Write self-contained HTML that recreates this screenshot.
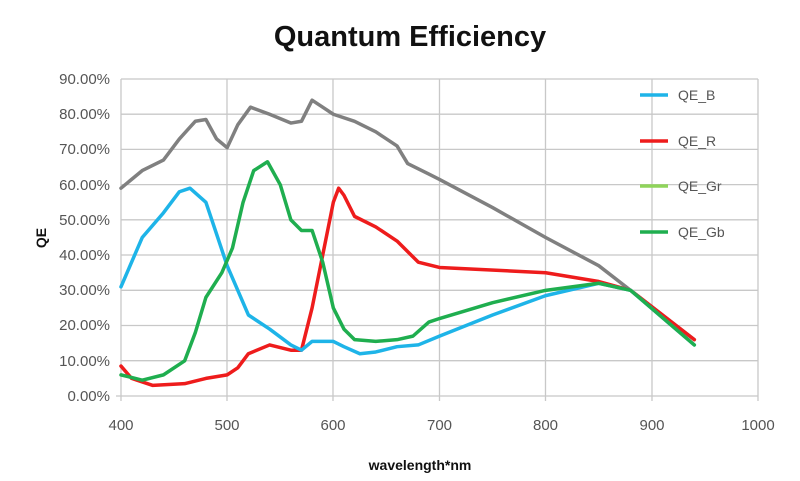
<!DOCTYPE html>
<html><head><style>body{margin:0;background:#fff}</style></head><body>
<svg width="800" height="476" xmlns="http://www.w3.org/2000/svg" font-family="Liberation Sans, sans-serif">
<rect width="800" height="476" fill="#fff"/>
<text x="410" y="46" text-anchor="middle" font-size="29" font-weight="bold" fill="#111">Quantum Efficiency</text>
<g stroke="#c8c8c8" stroke-width="1.3">
<line x1="121" y1="79" x2="758" y2="79"/><line x1="121" y1="114.2" x2="758" y2="114.2"/><line x1="121" y1="149.4" x2="758" y2="149.4"/><line x1="121" y1="184.6" x2="758" y2="184.6"/><line x1="121" y1="219.8" x2="758" y2="219.8"/><line x1="121" y1="255" x2="758" y2="255"/><line x1="121" y1="290.3" x2="758" y2="290.3"/><line x1="121" y1="325.5" x2="758" y2="325.5"/><line x1="121" y1="360.7" x2="758" y2="360.7"/><line x1="116" y1="396" x2="758" y2="396"/>
<line x1="121" y1="79" x2="121" y2="401"/><line x1="227" y1="79" x2="227" y2="401"/><line x1="333" y1="79" x2="333" y2="401"/><line x1="439.5" y1="79" x2="439.5" y2="401"/><line x1="545.5" y1="79" x2="545.5" y2="401"/><line x1="652" y1="79" x2="652" y2="401"/><line x1="758" y1="79" x2="758" y2="401"/>
</g>
<g font-size="15" fill="#555" text-anchor="end">
<text x="110" y="84">90.00%</text><text x="110" y="119">80.00%</text><text x="110" y="154">70.00%</text><text x="110" y="190">60.00%</text><text x="110" y="225">50.00%</text><text x="110" y="260">40.00%</text><text x="110" y="295">30.00%</text><text x="110" y="330">20.00%</text><text x="110" y="366">10.00%</text><text x="110" y="401">0.00%</text>
</g>
<g font-size="15" fill="#555" text-anchor="middle">
<text x="121" y="430">400</text><text x="227" y="430">500</text><text x="333" y="430">600</text><text x="439.5" y="430">700</text><text x="545.5" y="430">800</text><text x="652" y="430">900</text><text x="758" y="430">1000</text>
</g>
<text x="420" y="470" text-anchor="middle" font-size="14" font-weight="bold" fill="#111">wavelength*nm</text>
<text transform="translate(46,238) rotate(-90)" text-anchor="middle" font-size="14" font-weight="bold" fill="#111">QE</text>
<g transform="translate(-303.7,396) scale(1.0617,-3.522)" fill="none" stroke-linejoin="round" stroke-linecap="round">
<polyline vector-effect="non-scaling-stroke" stroke="#808080" stroke-width="3.5" points="400,59 420,64 440,67 455,73 470,78 480,78.5 490,73 500,70.5 510,77 522,82 540,80 560,77.5 570,78 580,84 590,82 600,80 620,78 640,75 660,71 670,66 690,63 700,61.5 750,53.5 800,45 850,37 880,30 940,16"/>
<polyline vector-effect="non-scaling-stroke" stroke="#ee1c1c" stroke-width="3.5" points="400,8.5 410,5 430,3 460,3.5 480,5 500,6 510,8 520,12 540,14.5 560,13 570,13 580,25 590,40 600,55 605,59 610,57 620,51 640,48 660,44 680,38 700,36.5 800,35 850,32.5 880,30 940,16"/>
<polyline vector-effect="non-scaling-stroke" stroke="#1eb4e8" stroke-width="3.5" points="400,31 420,45 440,52 455,58 465,59 480,55 490,46 500,37 510,30 520,23 540,19 560,14.5 570,13 580,15.5 600,15.5 610,14 625,12 640,12.5 660,14 680,14.5 700,17 750,23 800,28.5 850,32 880,30 940,14.5"/>
<polyline vector-effect="non-scaling-stroke" stroke="#1fae4f" stroke-width="3.5" points="400,6 420,4.5 440,6 460,10 470,18 480,28 495,35 505,42 515,55 525,64 538,66.5 550,60 560,50 570,47 580,47 590,38 600,25 610,19 620,16 640,15.5 660,16 675,17 690,21 700,22 750,26.5 800,30 850,32 880,30 940,14.5"/>
</g>
<g stroke-width="3.5">
<line x1="640" y1="95" x2="668" y2="95" stroke="#1eb4e8"/>
<line x1="640" y1="141" x2="668" y2="141" stroke="#ee1c1c"/>
<line x1="640" y1="186" x2="668" y2="186" stroke="#8fd45a"/>
<line x1="640" y1="232" x2="668" y2="232" stroke="#1fae4f"/>
</g>
<g font-size="14" fill="#555">
<text x="678" y="100">QE_B</text><text x="678" y="146">QE_R</text><text x="678" y="191">QE_Gr</text><text x="678" y="237">QE_Gb</text>
</g>
</svg>
</body></html>
